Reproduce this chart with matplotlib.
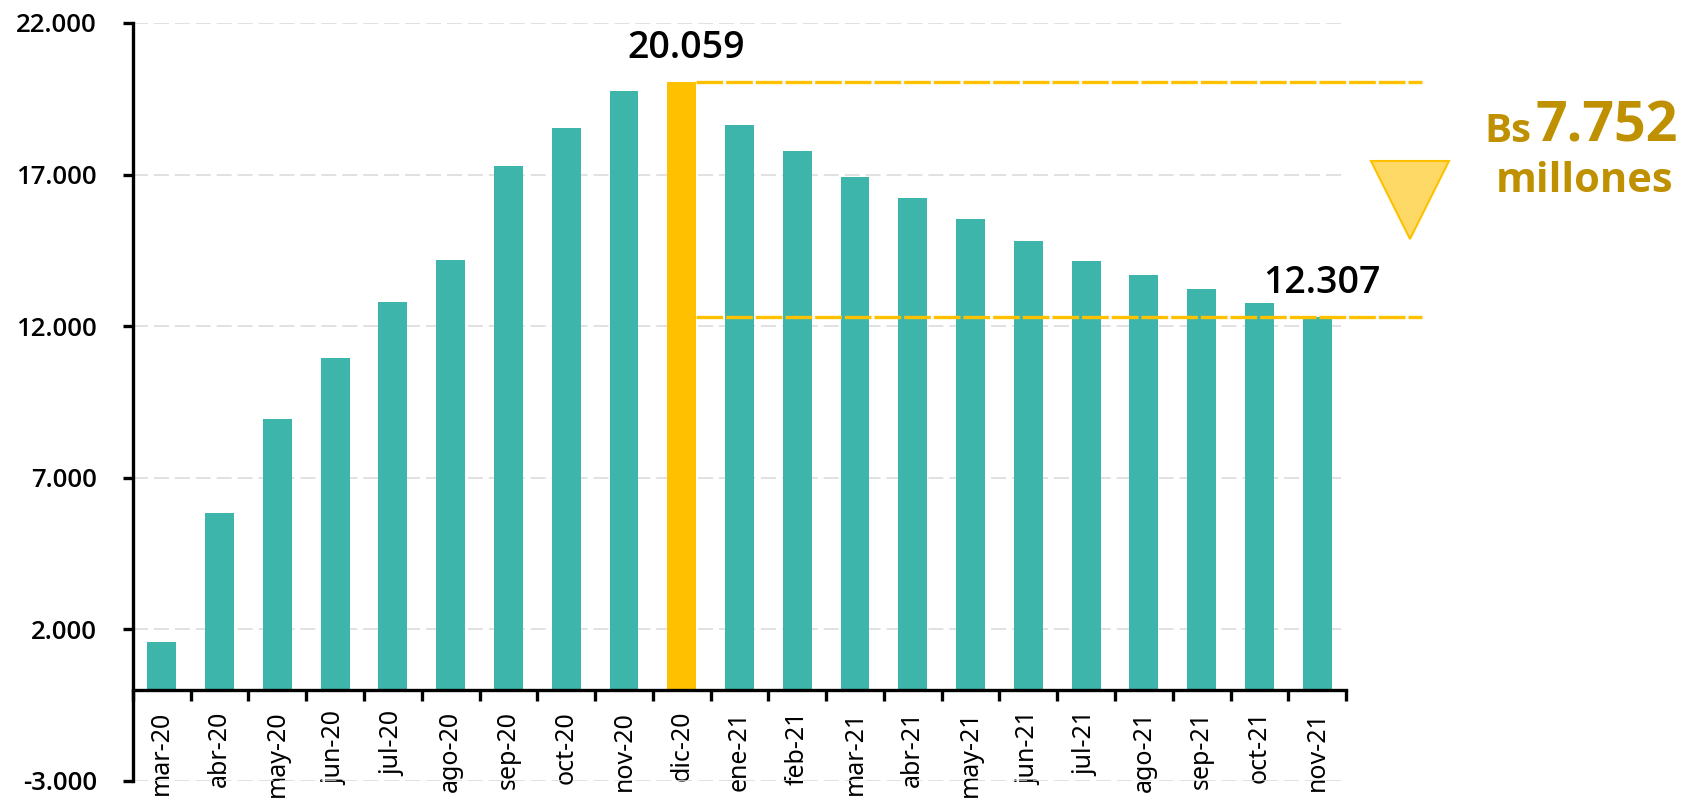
import matplotlib
matplotlib.use('Agg')
import matplotlib.pyplot as plt
from matplotlib import font_manager as fm
import numpy as np

# ---- data ----
months = ['mar-20', 'abr-20', 'may-20', 'jun-20', 'jul-20', 'ago-20', 'sep-20',
          'oct-20', 'nov-20', 'dic-20', 'ene-21', 'feb-21', 'mar-21', 'abr-21',
          'may-21', 'jun-21', 'jul-21', 'ago-21', 'sep-21', 'oct-21', 'nov-21']
values = [1600, 5850, 8940, 10960, 12800, 14170, 17300, 18550, 19750, 20059,
          18620, 17770, 16910, 16240, 15530, 14820, 14150, 13690, 13230, 12770,
          12307]
peak_month = 'dic-20'
last_month = 'nov-21'
yticks = [-3000, 2000, 7000, 12000, 17000, 22000]

TEAL = '#3DB5AA'
GOLD = '#FFC000'
GOLD_TXT = '#BF9000'
TRI_FILL = '#FFD966'

CANDIDATES = ['Noto Sans', 'Open Sans', 'Lato', 'Roboto', 'Liberation Sans',
              'DejaVu Sans']


def _w(v):
    if isinstance(v, str):
        return fm.weight_dict.get(v, 400)
    return int(v)


def pick_font(target):
    for fam in CANDIDATES:
        ents = [f for f in fm.fontManager.ttflist
                if f.name == fam and f.style == 'normal']
        if not ents:
            continue
        best = min(ents, key=lambda f: (abs(_w(f.weight) - target),
                                        -_w(f.weight)))
        if abs(_w(best.weight) - target) <= 100:
            return best.fname
    return None


def fp(target, size):
    fn = pick_font(target)
    if fn:
        return fm.FontProperties(fname=fn, size=size)
    return fm.FontProperties(family='DejaVu Sans', weight=target, size=size)


plt.rcParams['font.family'] = ['Noto Sans', 'DejaVu Sans']


def fmt(v):
    return '{:,.0f}'.format(v).replace(',', '.')


fig = plt.figure(figsize=(16.83, 8.0), dpi=100)
ax = fig.add_axes([0.079, 0.02375, 0.7208, 0.9475])

for s in ['top', 'right']:
    ax.spines[s].set_visible(False)
ax.spines['left'].set_linewidth(2.4)
ax.spines['bottom'].set_linewidth(2.4)
ax.spines['bottom'].set_position(('data', 0))

x = np.arange(len(months))
colors = [GOLD if m == peak_month else TEAL for m in months]
ax.bar(x, values, width=0.5, color=colors, zorder=2)

ax.set_xlim(-0.5, len(months) - 0.5)
ax.set_ylim(yticks[0], yticks[-1])
ax.set_yticks(yticks)
ax.set_yticklabels([fmt(t) for t in yticks], fontproperties=fp(600, 18.5))
ax.set_xticks(x)
ax.set_xticklabels(months, rotation=90, fontproperties=fp(500, 18))
ax.set_xticks(np.arange(-0.5, len(months), 1), minor=True)

ax.tick_params(axis='x', which='major', length=0, pad=15)
ax.tick_params(axis='x', which='minor', length=8, width=2.4, direction='out')
ax.tick_params(axis='y', which='major', length=7, width=2.4, pad=19)

ax.set_axisbelow(True)
ax.yaxis.grid(True, color='#D9D9D9', linewidth=1.1, linestyle=(0, (9.8, 3.9)))
ax.xaxis.grid(False)

# reference lines
ip = months.index(peak_month)
il = months.index(last_month)
vp = values[ip]
vl = values[il]
x_end = 21.82
for v in (vp, vl):
    ax.plot([ip + 0.25, x_end], [v, v], color=GOLD, linewidth=2.4,
            linestyle=(0, (8, 0.9)), dash_capstyle='butt', zorder=3,
            clip_on=False)

for i in (ip, il):
    ax.annotate(fmt(values[i]), xy=(i, values[i]), xytext=(3, 17),
                textcoords='offset points', ha='center', va='baseline',
                fontproperties=fp(600, 27), color='black',
                annotation_clip=False)

# triangle marker
ax.plot([21.61], [16150], marker='v', markersize=56, markerfacecolor=TRI_FILL,
        markeredgecolor=GOLD, markeredgewidth=1.5, clip_on=False, zorder=4)

diff = vp - vl
fig.text(0.997, 0.8225, fmt(diff), ha='right', va='baseline',
         fontproperties=fp(700, 40), color=GOLD_TXT)
fig.text(0.9097, 0.8225, 'Bs', ha='right', va='baseline',
         fontproperties=fp(700, 29), color=GOLD_TXT)
fig.text(0.994, 0.76, 'millones', ha='right', va='baseline',
         fontproperties=fp(700, 30), color=GOLD_TXT)

fig.savefig('out.png', dpi=100)
